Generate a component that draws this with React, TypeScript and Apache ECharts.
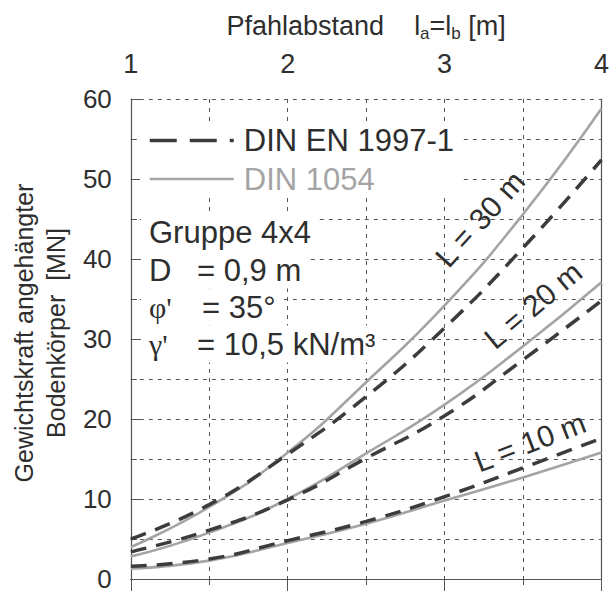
import React, { useEffect, useRef } from 'react';
import * as echarts from 'echarts';

// Pfahlabstand l_a = l_b [m]
const spacing = [1, 1.5, 2, 2.5, 3, 3.5, 4];

// DIN 1054 (solid, light grey)
const din1054_L10 = [1.3, 2.3, 4.5, 6.9, 9.8, 12.7, 15.8];
const din1054_L20 = [2.8, 5.8, 10.0, 15.7, 21.8, 29.1, 37.1];
const din1054_L30 = [4.0, 9.0, 15.8, 24.6, 34.2, 45.6, 58.8];

// DIN EN 1997-1 (dashed, dark)
const en1997_L10 = [1.6, 2.5, 4.8, 7.2, 10.3, 13.9, 17.6];
const en1997_L20 = [3.4, 6.1, 9.9, 15.1, 20.4, 27.4, 34.8];
const en1997_L30 = [5.0, 9.3, 15.6, 22.8, 31.4, 41.4, 52.4];

const legendNames = ['DIN EN 1997-1', 'DIN 1054'];
const lengthLabels = ['L = 10 m', 'L = 20 m', 'L = 30 m'];

const FONT = '"Liberation Sans", Arial, Helvetica, sans-serif';
const SERIF = '"Liberation Serif", "DejaVu Serif", serif';
const TEXT = '#2e2e2e';
const AXIS = '#555555';
const DARK = '#3c3c3c';
const LIGHT = '#a4a4a4';

export default function App() {
  const ref = useRef<HTMLDivElement>(null);

  useEffect(() => {
    if (!ref.current) return;
    const chart = echarts.init(ref.current, null, { renderer: 'svg' });

    const pair = (ys: number[]) => spacing.map((x, i) => [x, ys[i]]);
    const dashedStyle = { color: DARK, width: 3.5, type: [16, 10] as number[] };
    const solidStyle = { color: LIGHT, width: 2.6, type: 'solid' as const };
    const mk = (name: string, ys: number[], ls: any, z: number) => ({
      type: 'line',
      name,
      data: pair(ys),
      smooth: 0.5,
      showSymbol: false,
      symbol: 'none',
      lineStyle: ls,
      itemStyle: { color: ls.color },
      z,
      silent: true,
    });

    const grid = { lineStyle: { color: AXIS, width: 1, type: [4, 5] as number[] } };

    const option: any = {
      animation: false,
      grid: { left: 126, right: 7, top: 99, bottom: 10 },
      xAxis: [
        {
          type: 'value',
          position: 'top',
          min: 1,
          max: 4,
          interval: 1,
          name: 'Pfahlabstand    l{sub|a}=l{sub|b} [m]',
          nameLocation: 'middle',
          nameGap: 57,
          nameTextStyle: {
            fontFamily: FONT,
            fontSize: 27,
            color: TEXT,
            lineHeight: 32,
            rich: {
              sub: { fontFamily: FONT, fontSize: 17, color: TEXT, lineHeight: 18, padding: [14, 0, 0, 0] },
            },
          },
          axisLine: { show: true, lineStyle: { color: AXIS, width: 1.2 } },
          axisTick: { show: true, inside: true, length: 12, lineStyle: { color: AXIS } },
          minorTick: { show: true, splitNumber: 2, length: 6, lineStyle: { color: AXIS } },
          axisLabel: { fontFamily: FONT, fontSize: 27, color: TEXT, margin: 21, lineHeight: 28 },
          splitLine: { show: true, ...grid },
          minorSplitLine: { show: true, ...grid },
        },
        {
          type: 'value',
          position: 'bottom',
          min: 1,
          max: 4,
          interval: 1,
          axisLine: { show: true, lineStyle: { color: AXIS, width: 1.2 } },
          axisTick: { show: false },
          axisLabel: { show: false },
          splitLine: { show: false },
        },
      ],
      yAxis: [
        {
          type: 'value',
          min: 0,
          max: 60,
          interval: 10,
          name: 'Gewichtskraft angehängter\nBodenkörper  [MN]',
          nameLocation: 'middle',
          nameRotate: 90,
          nameGap: 58,
          nameTextStyle: {
            fontFamily: FONT,
            fontSize: 25,
            color: TEXT,
            lineHeight: 32,
            align: 'center',
            padding: [0, 0, 0, 12],
          },
          axisLine: { show: true, lineStyle: { color: AXIS, width: 1.2 } },
          axisTick: { show: true, inside: true, length: 12, lineStyle: { color: AXIS } },
          minorTick: { show: true, splitNumber: 2, length: 6, lineStyle: { color: AXIS } },
          axisLabel: { fontFamily: FONT, fontSize: 26, color: TEXT, margin: 19 },
          splitLine: { show: true, ...grid },
          minorSplitLine: { show: true, ...grid },
        },
        {
          type: 'value',
          position: 'right',
          min: 0,
          max: 60,
          interval: 10,
          axisLine: { show: true, lineStyle: { color: AXIS, width: 1.2 } },
          axisTick: { show: false },
          axisLabel: { show: false },
          splitLine: { show: false },
        },
      ],
      legend: {
        data: [
          {
            name: legendNames[0],
            textStyle: { color: TEXT },
            lineStyle: { color: DARK, width: 3.5, type: [27, 13] },
          },
          {
            name: legendNames[1],
            textStyle: { color: LIGHT },
            lineStyle: { color: LIGHT, width: 2.6, type: 'solid' },
          },
        ],
        orient: 'vertical',
        left: 140,
        top: 122,
        padding: [3, 6, 3, 8],
        backgroundColor: '#ffffff',
        itemWidth: 84,
        itemHeight: 14,
        itemGap: 7.5,
        selectedMode: false,
        itemStyle: { opacity: 0, borderWidth: 0 },
        textStyle: { fontFamily: FONT, fontSize: 31, lineHeight: 31, padding: [0, 0, 0, 5] },
      },
      series: [
        mk(legendNames[1], din1054_L10, solidStyle, 2),
        mk(legendNames[1], din1054_L20, solidStyle, 2),
        mk(legendNames[1], din1054_L30, solidStyle, 2),
        mk(legendNames[0], en1997_L10, dashedStyle, 3),
        mk(legendNames[0], en1997_L20, dashedStyle, 3),
        mk(legendNames[0], en1997_L30, dashedStyle, 3),
      ],
      graphic: [
        {
          type: 'text',
          x: 141,
          y: 232,
          z: 10,
          style: {
            text: 'Gruppe 4x4',
            font: `31px ${FONT}`,
            fill: TEXT,
            verticalAlign: 'middle',
            backgroundColor: '#fff',
            padding: [3, 8, 3, 8],
          },
        },
        {
          type: 'text',
          x: 141,
          y: 270,
          z: 10,
          style: {
            text: '{a|D}{b|= 0,9 m}',
            verticalAlign: 'middle',
            backgroundColor: '#fff',
            padding: [3, 8, 3, 8],
            rich: {
              a: { font: `31px ${FONT}`, fill: TEXT, width: 48 },
              b: { font: `31px ${FONT}`, fill: TEXT },
            },
          },
        },
        {
          type: 'text',
          x: 141,
          y: 307,
          z: 10,
          style: {
            text: "{a|φ'}{b|= 35°}",
            verticalAlign: 'middle',
            backgroundColor: '#fff',
            padding: [3, 8, 3, 8],
            rich: {
              a: { font: `30px ${SERIF}`, fill: TEXT, width: 53 },
              b: { font: `31px ${FONT}`, fill: TEXT },
            },
          },
        },
        {
          type: 'text',
          x: 141,
          y: 344,
          z: 10,
          style: {
            text: "{a|γ'}{b|= 10,5 kN/m³}",
            verticalAlign: 'middle',
            backgroundColor: '#fff',
            padding: [3, 4, 3, 8],
            rich: {
              a: { font: `30px ${SERIF}`, fill: TEXT, width: 48 },
              b: { font: `31px ${FONT}`, fill: TEXT },
            },
          },
        },
        {
          type: 'text',
          x: 530,
          y: 442,
          rotation: (21 * Math.PI) / 180,
          z: 10,
          style: { text: lengthLabels[0], font: `30px ${FONT}`, fill: TEXT, align: 'center', verticalAlign: 'middle' },
        },
        {
          type: 'text',
          x: 533,
          y: 305,
          rotation: (40 * Math.PI) / 180,
          z: 10,
          style: { text: lengthLabels[1], font: `30px ${FONT}`, fill: TEXT, align: 'center', verticalAlign: 'middle' },
        },
        {
          type: 'text',
          x: 480,
          y: 219,
          rotation: (48 * Math.PI) / 180,
          z: 10,
          style: { text: lengthLabels[2], font: `30px ${FONT}`, fill: TEXT, align: 'center', verticalAlign: 'middle' },
        },
      ],
    };

    chart.setOption(option);
    return () => chart.dispose();
  }, []);

  return (
    <div
      ref={ref}
      style={{ position: 'absolute', left: 0, top: 0, width: 612, height: 592, background: '#ffffff' }}
    />
  );
}
